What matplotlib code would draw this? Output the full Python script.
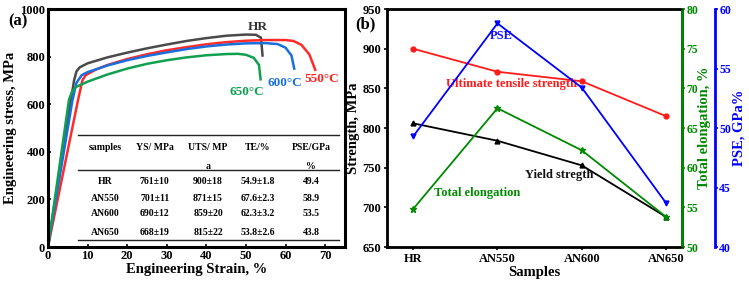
import matplotlib
matplotlib.use("Agg")
import matplotlib.pyplot as plt

plt.rcParams['font.family'] = ['Liberation Serif', 'DejaVu Serif']
plt.rcParams['font.weight'] = 'bold'
plt.rcParams['axes.labelweight'] = 'bold'

# ---- panel (a): stress-strain curves ----
hr_strain = [0, 5.8, 6.6, 7.2, 8, 10, 15, 20, 25, 30, 35, 40, 45, 50, 52.5, 53.8, 54.2]
hr_stress = [0, 618, 700, 738, 755, 772, 797, 817, 835, 851, 866, 878, 888, 893, 892, 880, 805]

an550_strain = [0, 7.6, 8.7, 9.5, 12, 15, 20, 25, 30, 35, 40, 45, 50, 55, 60, 62, 64, 66, 67.5]
an550_stress = [0, 618, 700, 722, 745, 765, 790, 810, 827, 840, 852, 861, 867, 870, 870, 866, 850, 810, 745]

an600_strain = [0, 6.2, 7.2, 8.5, 10, 15, 20, 25, 30, 35, 40, 45, 50, 55, 58, 60, 61.5, 62.2]
an600_stress = [0, 618, 690, 722, 735, 763, 785, 803, 818, 832, 843, 851, 856, 857, 853, 838, 805, 750]

an650_strain = [0, 5.3, 6, 7, 10, 15, 20, 25, 30, 35, 40, 45, 48, 50, 52, 53.3, 53.7]
an650_stress = [0, 618, 650, 672, 695, 725, 750, 770, 785, 797, 806, 811, 812, 808, 795, 765, 705]

# table in panel (a)
tbl_header = ["samples", "YS/ MPa", "UTS/ MP", "TE/%", "PSE/GPa"]
tbl_header2 = ["", "", "a", "", "%"]
tbl_rows = [
    ["HR", "761±10", "900±18", "54.9±1.8", "49.4"],
    ["AN550", "701±11", "871±15", "67.6±2.3", "58.9"],
    ["AN600", "690±12", "859±20", "62.3±3.2", "53.5"],
    ["AN650", "668±19", "815±22", "53.8±2.6", "43.8"],
]

# ---- panel (b): properties per sample ----
samples = ["HR", "AN550", "AN600", "AN650"]
uts = [900, 871, 859, 815]
ys = [806, 784, 753, 688]
te = [54.8, 67.5, 62.2, 53.8]
pse = [49.3, 58.8, 53.4, 43.7]

fig = plt.figure(figsize=(7.49, 2.84), dpi=100)

# ================= (a) =================
ax = fig.add_axes([0.064, 0.130, 0.3965, 0.838])
ax.plot(hr_strain, hr_stress, color='#4a4a4a', lw=1.8)
ax.plot(an550_strain, an550_stress, color='#ff2a2a', lw=1.8)
ax.plot(an600_strain, an600_stress, color='#1a6fdf', lw=1.8)
ax.plot(an650_strain, an650_stress, color='#10a050', lw=1.8)
ax.set_xlim(0, 75)
ax.set_ylim(0, 1000)
ax.set_xticks([0, 10, 20, 30, 40, 50, 60, 70])
ax.set_yticks([0, 200, 400, 600, 800, 1000])
ax.tick_params(direction='in', labelsize=9, width=1.2, length=2, pad=2)
for s in ax.spines.values():
    s.set_linewidth(2.2)
ax.set_xlabel("Engineering Strain, %", fontsize=10.5, labelpad=1)
ax.set_ylabel("Engineering stress, MPa", fontsize=10.5, labelpad=2)

ax.text(53, 925, "HR", color='#333333', fontsize=9.5, ha='center', va='center')
ax.text(69.2, 705, "550°C", color='#ff2020', fontsize=9.5, ha='center', va='center')
ax.text(59.8, 690, "600°C", color='#1a6fdf', fontsize=9.5, ha='center', va='center')
ax.text(50.2, 650, "650°C", color='#10a050', fontsize=9.5, ha='center', va='center')

col_x = [0.192, 0.36, 0.539, 0.707, 0.886]
for yline in [0.47, 0.324, 0.029]:
    ax.plot([0.101, 0.98], [yline, yline], color='#222222', lw=1.0, transform=ax.transAxes)
for cx, h1, h2 in zip(col_x, tbl_header, tbl_header2):
    ax.text(cx, 0.42, h1, transform=ax.transAxes, ha='center', va='center', fontsize=7)
    ax.text(cx, 0.34, h2, transform=ax.transAxes, ha='center', va='center', fontsize=7)
row_y = [0.277, 0.206, 0.139, 0.063]
for ry, row in zip(row_y, tbl_rows):
    for cx, val in zip(col_x, row):
        ax.text(cx, ry, val, transform=ax.transAxes, ha='center', va='center', fontsize=7)

fig.text(0.011, 0.925, "(a)", fontsize=12, ha='left', va='center')

# ================= (b) =================
bx = fig.add_axes([0.5167, 0.130, 0.394, 0.838])
xpos = list(range(len(samples)))
bx.plot(xpos, uts, color='#ff1a1a', marker='o', ms=3.5, lw=1.3)
bx.plot(xpos, ys, color='black', marker='^', ms=3.5, lw=1.3)
bx.set_xlim(-0.31, 3.19)
bx.set_ylim(650, 950)
bx.set_yticks([650, 700, 750, 800, 850, 900, 950])
bx.set_xticks(xpos)
bx.set_xticklabels(samples)
bx.tick_params(direction='out', labelsize=9, width=1.2, length=2, pad=2)
for s in bx.spines.values():
    s.set_linewidth(2.0)
bx.set_xlabel("Samples", fontsize=10.5, labelpad=1)
bx.set_ylabel("Strength, MPa", fontsize=10.5, labelpad=2)

gx = bx.twinx()
gx.plot(xpos, te, color='#008a00', marker='*', ms=4.5, lw=1.3)
gx.set_ylim(50, 80)
gx.set_yticks([50, 55, 60, 65, 70, 75, 80])
gx.spines['right'].set_color('#008a00')
gx.spines['right'].set_linewidth(2.0)
gx.tick_params(axis='y', colors='#008a00', labelsize=8.5, width=1.2, length=2, pad=1)
gx.set_ylabel("Total elongation, %", color='#008a00', fontsize=10.5, labelpad=0)

px = bx.twinx()
px.spines['right'].set_position(('axes', 1.112))
px.spines['right'].set_color('#0000ff')
px.spines['right'].set_linewidth(2.0)
px.plot(xpos, pse, color='#0000ff', marker='v', ms=3.5, lw=1.3)
px.set_ylim(40, 60)
px.set_yticks([40, 45, 50, 55, 60])
px.tick_params(axis='y', colors='#0000ff', labelsize=8.5, width=1.2, length=2, pad=1)
px.set_ylabel("PSE, GPa%", color='#0000ff', fontsize=10.5, labelpad=1)

bx.text(1.05, 916, "PSE", color='#1010ff', fontsize=9, ha='center', va='center')
bx.text(1.17, 855, "Ultimate tensile strength", color='#ff1a1a', fontsize=9, ha='center', va='center')
bx.text(1.73, 741, "Yield stregth", color='#111111', fontsize=9, ha='center', va='center')
bx.text(0.76, 718, "Total elongation", color='#008a00', fontsize=9, ha='center', va='center')

fig.text(0.474, 0.915, "(b)", fontsize=12, ha='left', va='center')

fig.savefig("out.png", dpi=100)
